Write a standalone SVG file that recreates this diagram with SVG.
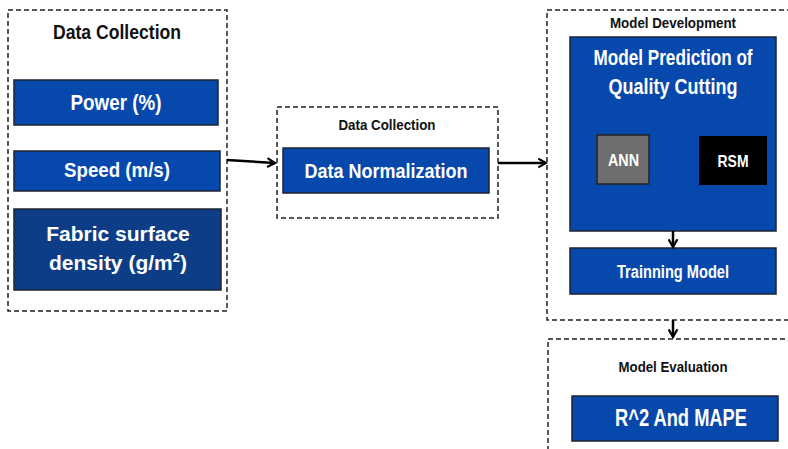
<svg xmlns="http://www.w3.org/2000/svg" width="788" height="449" viewBox="0 0 788 449">
<defs>
<style>
.dash{fill:#fff;stroke:#222;stroke-width:1.5;stroke-dasharray:5,3}
.blue{fill:#0748ad;stroke:#1c2333;stroke-width:1.5}
.dark{fill:#0e3d88;stroke:#1c2333;stroke-width:1.5}
.cond{font-family:"Liberation Sans",Arial,sans-serif;font-weight:bold;text-anchor:middle}
.t{fill:#111}
.w{fill:#fff}
.ar{font-family:"Liberation Sans",Arial,sans-serif;font-weight:bold;text-anchor:middle;fill:#fff;font-size:21px}
.conn{stroke:#000;stroke-width:2.5;fill:none}
</style>
<marker id="ah" viewBox="0 0 10 10" refX="8" refY="5" markerWidth="4.4" markerHeight="4.4" orient="auto" markerUnits="strokeWidth">
<path d="M1,1 L8,5 L1,9" fill="none" stroke="#000" stroke-width="2"/>
</marker>
</defs>
<rect width="788" height="449" fill="#fff"/>
<g id="data-collection-group">
<rect class="dash" x="8" y="10" width="219" height="301"/>
<text class="cond t" x="117" y="39" font-size="20" textLength="128" lengthAdjust="spacingAndGlyphs">Data Collection</text>
</g>
<g id="power">
<rect class="blue" x="14" y="80" width="204" height="45"/>
<text class="cond w" x="116" y="110" font-size="22" textLength="91" lengthAdjust="spacingAndGlyphs">Power (%)</text>
</g>
<g id="speed">
<rect class="blue" x="14" y="151" width="206" height="40"/>
<text class="cond w" x="117" y="177" font-size="21" textLength="106" lengthAdjust="spacingAndGlyphs">Speed (m/s)</text>
</g>
<g id="fabric">
<rect class="dark" x="14" y="209" width="207" height="81"/>
<text class="ar" x="118" y="241">Fabric surface</text>
<text class="ar" x="118" y="270">density (g/m<tspan font-size="13" dy="-8">2</tspan><tspan dy="8">)</tspan></text>
</g>
<g id="preprocessing-group">
<rect class="dash" x="277" y="107" width="221" height="111"/>
<text class="cond t" x="387" y="130" font-size="15" textLength="97" lengthAdjust="spacingAndGlyphs">Data Collection</text>
</g>
<g id="normalization">
<rect class="blue" x="283" y="148" width="206" height="45"/>
<text class="cond w" x="386" y="178" font-size="21" textLength="163" lengthAdjust="spacingAndGlyphs">Data Normalization</text>
</g>
<g id="model-development-group">
<rect class="dash" x="547" y="10" width="250" height="310"/>
<text class="cond t" x="673" y="28" font-size="15" textLength="126" lengthAdjust="spacingAndGlyphs">Model Development</text>
</g>
<g id="model-prediction">
<rect class="blue" x="570" y="37" width="206" height="194"/>
<text class="cond w" transform="translate(673,65) scale(0.78,1)" font-size="22">Model Prediction of</text>
<text class="cond w" x="673" y="94" font-size="22" textLength="129" lengthAdjust="spacingAndGlyphs">Quality Cutting</text>
</g>
<g id="ann">
<rect x="597" y="135" width="52" height="49" fill="#6e6e6e" stroke="#222" stroke-width="1.5"/>
<text class="cond w" x="623.5" y="166" font-size="17" textLength="31" lengthAdjust="spacingAndGlyphs">ANN</text>
</g>
<g id="rsm">
<rect x="699" y="136" width="68" height="49" fill="#000"/>
<text class="cond w" x="733" y="167" font-size="17" textLength="31" lengthAdjust="spacingAndGlyphs">RSM</text>
</g>
<g id="training">
<rect class="blue" x="570" y="248" width="206" height="46"/>
<text class="cond w" x="673" y="278" font-size="18" textLength="112" lengthAdjust="spacingAndGlyphs">Trainning Model</text>
</g>
<g id="model-evaluation-group">
<rect class="dash" x="548" y="339" width="250" height="130"/>
<text class="cond t" x="673" y="372" font-size="15" textLength="109" lengthAdjust="spacingAndGlyphs">Model Evaluation</text>
</g>
<g id="metrics">
<rect class="blue" x="572" y="396" width="206" height="45"/>
<text class="cond w" x="681" y="426" font-size="24" textLength="132" lengthAdjust="spacingAndGlyphs">R^2 And MAPE</text>
</g>
<g id="connectors">
<path class="conn" d="M227,160 L275,163" marker-end="url(#ah)"/>
<path class="conn" d="M498,163 L546,163" marker-end="url(#ah)"/>
<path class="conn" d="M673,231 L673,247" marker-end="url(#ah)"/>
<path class="conn" d="M673,320 L673,337" marker-end="url(#ah)"/>
</g>
</svg>
